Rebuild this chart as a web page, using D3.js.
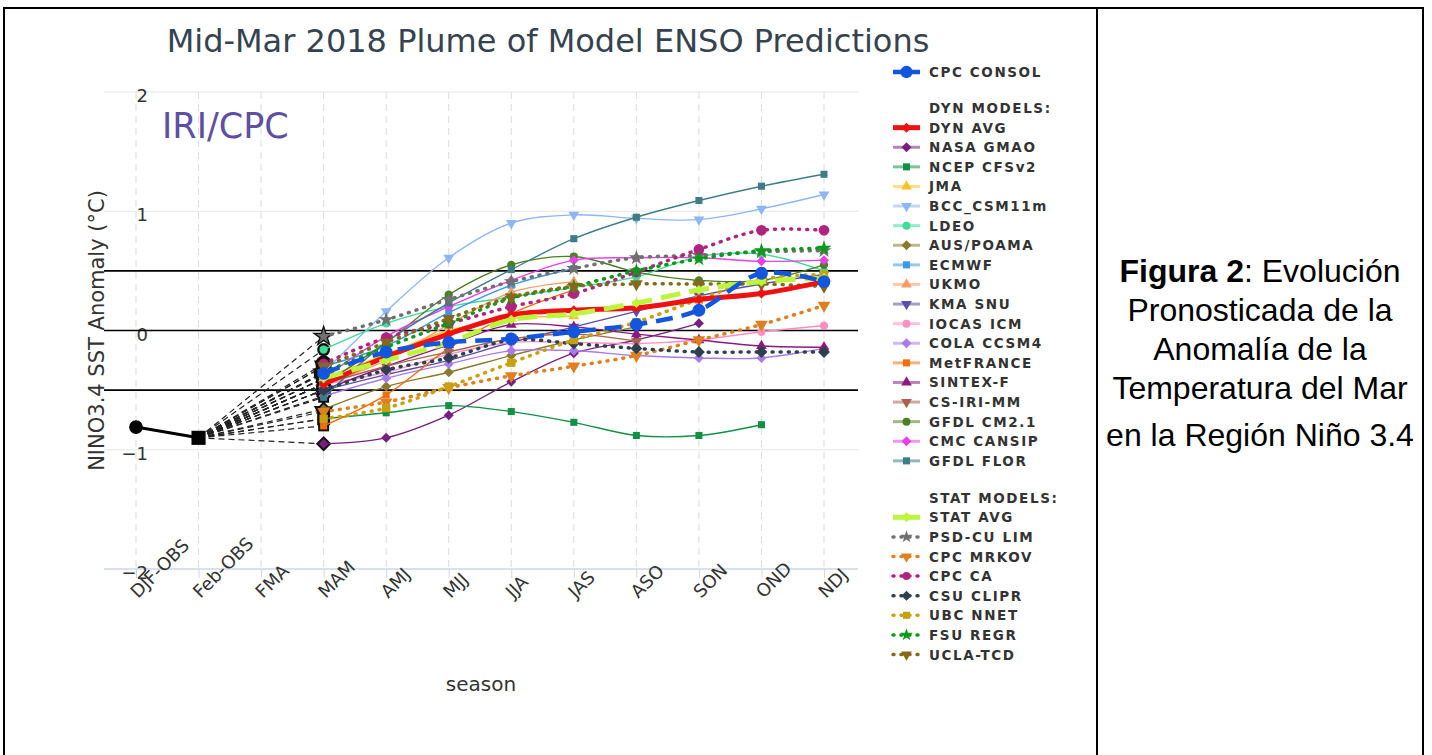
<!DOCTYPE html>
<html>
<head>
<meta charset="utf-8">
<script src="https://cdn.jsdelivr.net/npm/d3@7"></script>
<style>
  body { margin: 0; background: #fff; }
  svg { display: block; }
  .lbl { font-family: "DejaVu Sans", Verdana, sans-serif; fill: #333; }
</style>
</head>
<body>
<svg id="chart" width="1432" height="755"></svg>
<script>
// ---- data ----
const seasons = ['DJF-OBS', 'Feb-OBS', 'FMA', 'MAM', 'AMJ', 'MJJ', 'JJA', 'JAS', 'ASO', 'SON', 'OND', 'NDJ'];
const fcstSeasons = seasons.slice(3); // MAM .. NDJ
const yTicks = [-2, -1, 0, 1, 2];
const refLines = [-0.5, 0, 0.5];
const obsSeasons = ['DJF-OBS', 'Feb-OBS'];
const obsValues = [-0.81, -0.90];

// forecasts MAM..NDJ (null = no forecast)
const cpcConsol  = [-0.36, -0.18, -0.10, -0.07, -0.01, 0.05, 0.17, 0.48, 0.41];
const dynAvg     = [-0.45, -0.22, -0.03, 0.13, 0.17, 0.19, 0.26, 0.31, 0.41];
const nasaGmao   = [-0.95, -0.90, -0.71, -0.43, -0.19, -0.08, 0.06, null, null];
const ncepCfs    = [-0.74, -0.69, -0.63, -0.68, -0.77, -0.88, -0.88, -0.79, null];
const jma        = [-0.40, -0.20, 0.00, 0.10, 0.12, null, null, null, null];
const bcc        = [-0.35, 0.16, 0.61, 0.90, 0.97, 0.94, 0.93, 1.02, 1.14];
const ldeo       = [-0.16, 0.06, 0.20, 0.28, 0.36, 0.45, 0.62, 0.64, 0.50];
const ausPoama   = [-0.66, -0.47, -0.35, -0.21, -0.08, 0.03, null, null, null];
const ecmwf      = [-0.30, -0.13, 0.15, 0.38, 0.52, null, null, null, null];
const ukmo       = [-0.45, -0.25, 0.05, 0.32, 0.41, null, null, null, null];
const kmaSnu     = [-0.50, -0.37, -0.25, -0.10, 0.03, 0.16, 0.29, 0.39, 0.47];
const iocasIcm   = [-0.45, -0.35, -0.20, -0.10, -0.10, -0.11, -0.08, -0.01, 0.04];
const colaCcsm4  = [-0.55, -0.40, -0.28, -0.17, -0.17, -0.21, -0.23, -0.23, -0.15];
const metFrance  = [-0.80, -0.54, -0.15, 0.14, 0.34, null, null, null, null];
const sintexF    = [-0.50, -0.30, -0.12, 0.05, 0.03, -0.03, -0.08, -0.13, -0.14];
const csIriMm    = [-0.45, -0.30, -0.18, -0.07, -0.03, -0.09, null, null, null];
const gfdlCm21   = [-0.45, -0.10, 0.30, 0.55, 0.62, 0.49, 0.42, 0.42, 0.55];
const cmcCansip  = [-0.40, -0.05, 0.20, 0.42, 0.59, 0.61, 0.61, 0.58, 0.59];
const gfdlFlor   = [-0.56, -0.10, 0.23, 0.51, 0.77, 0.95, 1.09, 1.21, 1.31];
const statAvg    = [-0.40, -0.25, -0.10, 0.09, 0.14, 0.23, 0.34, 0.41, 0.44];
const psdCuLim   = [-0.05, 0.09, 0.26, 0.41, 0.52, 0.61, 0.63, 0.66, 0.67];
const cpcMrkov   = [-0.68, -0.60, -0.48, -0.38, -0.30, -0.21, -0.08, 0.05, 0.21];
const cpcCa      = [-0.28, -0.06, 0.06, 0.20, 0.31, 0.49, 0.68, 0.84, 0.84];
const csuClipr   = [-0.50, -0.33, -0.23, -0.08, -0.11, -0.15, -0.18, -0.18, -0.18];
const ubcNnet    = [-0.74, -0.65, -0.47, -0.27, -0.08, 0.07, 0.26, 0.43, 0.47];
const fsuRegr    = [-0.35, -0.14, 0.06, 0.27, 0.37, 0.50, 0.60, 0.67, 0.69];
const uclaTcd    = [-0.30, -0.10, 0.10, 0.28, 0.37, 0.39, 0.39, 0.39, 0.37];

const captionLines = ['Pronosticada de la', 'Anomalía de la', 'Temperatura del Mar', 'en la Región Niño 3.4'];

// styles per series
const consol = { name: 'CPC CONSOL', values: cpcConsol, color: '#1256e0', marker: 'circle', kind: 'consol' };
const dynModels = [
  { name: 'DYN AVG',     values: dynAvg,    color: '#ee1111', marker: 'diamond',  kind: 'avg' },
  { name: 'NASA GMAO',   values: nasaGmao,  color: '#75207f', marker: 'diamond',  kind: 'dyn' },
  { name: 'NCEP CFSv2',  values: ncepCfs,   color: '#119146', marker: 'square',   kind: 'dyn' },
  { name: 'JMA',         values: jma,       color: '#ffc125', marker: 'triangle', kind: 'dyn' },
  { name: 'BCC_CSM11m',  values: bcc,       color: '#8db6f4', marker: 'triangle-down', kind: 'dyn' },
  { name: 'LDEO',        values: ldeo,      color: '#3ddc97', marker: 'circle',   kind: 'dyn' },
  { name: 'AUS/POAMA',   values: ausPoama,  color: '#8a7a2e', marker: 'diamond',  kind: 'dyn' },
  { name: 'ECMWF',       values: ecmwf,     color: '#3a9ae8', marker: 'square',   kind: 'dyn' },
  { name: 'UKMO',        values: ukmo,      color: '#ff9966', marker: 'triangle', kind: 'dyn' },
  { name: 'KMA SNU',     values: kmaSnu,    color: '#5a4ea8', marker: 'triangle-down', kind: 'dyn' },
  { name: 'IOCAS ICM',   values: iocasIcm,  color: '#ff8fc0', marker: 'circle',   kind: 'dyn' },
  { name: 'COLA CCSM4',  values: colaCcsm4, color: '#a97ae8', marker: 'diamond',  kind: 'dyn' },
  { name: 'MetFRANCE',   values: metFrance, color: '#f06d10', marker: 'square',   kind: 'dyn' },
  { name: 'SINTEX-F',    values: sintexF,   color: '#8b1a80', marker: 'triangle', kind: 'dyn' },
  { name: 'CS-IRI-MM',   values: csIriMm,   color: '#a8624f', marker: 'triangle-down', kind: 'dyn' },
  { name: 'GFDL CM2.1',  values: gfdlCm21,  color: '#4a7f24', marker: 'circle',   kind: 'dyn' },
  { name: 'CMC CANSIP',  values: cmcCansip, color: '#e840e8', marker: 'diamond',  kind: 'dyn' },
  { name: 'GFDL FLOR',   values: gfdlFlor,  color: '#3d7d86', marker: 'square',   kind: 'dyn' }
];
const statModels = [
  { name: 'STAT AVG',    values: statAvg,   color: '#bdf53c', marker: 'diamond',  kind: 'savg' },
  { name: 'PSD-CU LIM',  values: psdCuLim,  color: '#707070', marker: 'star',     kind: 'stat' },
  { name: 'CPC MRKOV',   values: cpcMrkov,  color: '#e07f20', marker: 'triangle-down', kind: 'stat' },
  { name: 'CPC CA',      values: cpcCa,     color: '#b0237f', marker: 'circle',   kind: 'stat' },
  { name: 'CSU CLIPR',   values: csuClipr,  color: '#2e4050', marker: 'diamond',  kind: 'stat' },
  { name: 'UBC NNET',    values: ubcNnet,   color: '#c9a00f', marker: 'square',   kind: 'stat' },
  { name: 'FSU REGR',    values: fsuRegr,   color: '#0a9a1a', marker: 'star',     kind: 'stat' },
  { name: 'UCLA-TCD',    values: uclaTcd,   color: '#85691a', marker: 'triangle-down', kind: 'stat' }
];

const svg = d3.select('#chart');
const pLeft = 104, pRight = 858, pTop = 92, pBottom = 569;
const x = d3.scalePoint().domain(seasons).range([136, 824]);
const y = d3.scaleLinear().domain([-2, 2]).range([pBottom, pTop]);

// frame of the figure table
svg.append('g').attr('stroke', '#000').attr('stroke-width', 2).selectAll('line')
  .data([[4, 8, 1424, 8], [4, 7, 4, 755], [1097, 7, 1097, 755], [1423, 7, 1423, 755]])
  .join('line')
    .attr('x1', d => d[0]).attr('y1', d => d[1]).attr('x2', d => d[2]).attr('y2', d => d[3]);

svg.append('text').attr('class', 'lbl')
  .attr('x', 548).attr('y', 52).attr('text-anchor', 'middle')
  .attr('font-size', 32).style('fill', '#36434f')
  .text('Mid-Mar 2018 Plume of Model ENSO Predictions');

// grid
svg.append('g').selectAll('line').data(seasons).join('line')
  .attr('x1', d => x(d)).attr('x2', d => x(d))
  .attr('y1', pTop).attr('y2', pBottom)
  .attr('stroke', '#dcdcdc').attr('stroke-dasharray', '7,5');
svg.append('g').selectAll('line').data(yTicks.filter(t => t > -2)).join('line')
  .attr('x1', pLeft).attr('x2', pRight)
  .attr('y1', d => y(d)).attr('y2', d => y(d))
  .attr('stroke', '#e6e6e6');

// x axis
const xAxis = svg.append('g').attr('transform', `translate(0,${pBottom})`)
  .call(d3.axisBottom(x).tickSize(9).tickFormat(''));
xAxis.select('.domain').remove();
xAxis.selectAll('line').attr('stroke', '#ccd6eb');
svg.append('line').attr('x1', pLeft).attr('x2', pRight).attr('y1', pBottom).attr('y2', pBottom)
  .attr('stroke', '#ccd6eb').attr('stroke-width', 1.5);
svg.append('g').selectAll('text').data(seasons).join('text')
  .attr('class', 'lbl').attr('font-size', 18)
  .attr('transform', d => `translate(${x(d) + 2},${pBottom + 30}) rotate(-45)`)
  .text(d => d);

// y labels
svg.append('g').selectAll('text').data(yTicks).join('text')
  .attr('class', 'lbl').attr('font-size', 18).attr('text-anchor', 'end')
  .attr('x', 148).attr('y', d => y(d) + 10)
  .text(d => d < 0 ? '\u2212' + Math.abs(d) : d);

svg.append('text').attr('class', 'lbl').attr('font-size', 21).attr('text-anchor', 'middle')
  .attr('transform', `translate(104,${(pTop + pBottom) / 2}) rotate(-90)`)
  .text('NINO3.4 SST Anomaly (°C)');
svg.append('text').attr('class', 'lbl').attr('font-size', 20).attr('text-anchor', 'middle')
  .attr('x', (pLeft + pRight) / 2).attr('y', 691).text('season');

svg.append('text').attr('class', 'lbl').attr('font-size', 35).style('fill', '#5e4fa2')
  .attr('x', 162).attr('y', 138).text('IRI/CPC');

// reference lines
svg.append('g').selectAll('line').data(refLines).join('line')
  .attr('x1', pLeft).attr('x2', pRight)
  .attr('y1', d => y(d)).attr('y2', d => y(d))
  .attr('stroke', '#000').attr('stroke-width', 1.6);

// markers
function symbolPath(m, size) {
  const t = { circle: d3.symbolCircle, square: d3.symbolSquare, diamond: d3.symbolSquare,
              triangle: d3.symbolTriangle, 'triangle-down': d3.symbolTriangle, star: d3.symbolStar }[m];
  return d3.symbol().type(t).size(size)();
}
function symbolRot(m) { return m === 'diamond' ? 45 : m === 'triangle-down' ? 180 : 0; }
function markerSize(s) {
  if (s.kind === 'consol') return 130;
  if (s.name === 'CPC CA') return 90;
  if (s.kind === 'stat') return 70;
  return s.marker === 'circle' ? 55 : 50;
}
function lineStyle(sel, s) {
  const st = {
    consol: { w: 4.5, dash: '17,9' },
    avg:    { w: 5,   dash: null },
    savg:   { w: 5,   dash: '20,9' },
    dyn:    { w: 1.4, dash: null },
    stat:   { w: 3.5, dash: '1,7' }
  }[s.kind];
  sel.attr('stroke', s.color).attr('stroke-width', st.w)
    .attr('stroke-dasharray', st.dash).attr('stroke-linecap', s.kind === 'stat' ? 'round' : 'butt');
}

const allSeries = [...dynModels.slice(1), ...statModels.slice(1), dynModels[0], statModels[0], consol];
const pts = s => s.values.map((v, i) => ({ s: fcstSeasons[i], v })).filter(d => d.v !== null);

// dashed connectors from the last observation to each first forecast
svg.append('g').selectAll('line').data(allSeries).join('line')
  .attr('x1', x('Feb-OBS')).attr('y1', y(obsValues[1]))
  .attr('x2', x('MAM')).attr('y2', s => y(s.values[0]))
  .attr('stroke', '#222').attr('stroke-width', 1.2).attr('stroke-dasharray', '6,4');

// observations
svg.append('path').datum(obsValues)
  .attr('fill', 'none').attr('stroke', '#000').attr('stroke-width', 3)
  .attr('d', d3.line().x((d, i) => x(obsSeasons[i])).y(d => y(d)));
svg.append('path').attr('d', symbolPath('circle', 150))
  .attr('transform', `translate(${x(obsSeasons[0])},${y(obsValues[0])})`);
svg.append('path').attr('d', symbolPath('square', 200))
  .attr('transform', `translate(${x(obsSeasons[1])},${y(obsValues[1])})`);

// black first-forecast markers
svg.append('g').selectAll('path').data(allSeries).join('path')
  .attr('d', s => symbolPath(s.marker, markerSize(s) * 2.4))
  .attr('transform', s => `translate(${x('MAM')},${y(s.values[0])}) rotate(${symbolRot(s.marker)})`)
  .attr('fill', '#111');

const line = d3.line().x(d => x(d.s)).y(d => y(d.v)).curve(d3.curveCatmullRom.alpha(0.5));
allSeries.forEach(s => {
  const g = svg.append('g');
  g.append('path').datum(pts(s)).attr('fill', 'none').attr('d', line).call(lineStyle, s);
  g.selectAll('path.m').data(pts(s)).join('path').attr('class', 'm')
    .attr('d', symbolPath(s.marker, markerSize(s)))
    .attr('transform', d => `translate(${x(d.s)},${y(d.v)}) rotate(${symbolRot(s.marker)})`)
    .attr('fill', s.color);
});

// legend
const legend = svg.append('g');
const rowH = 19.6;
const rows = [];
let ly = 72;
rows.push({ y: ly, s: consol });
ly += rowH * 1.84; rows.push({ y: ly, head: 'DYN MODELS:' });
dynModels.forEach(s => { ly += rowH; rows.push({ y: ly, s }); });
ly += rowH * 1.88; rows.push({ y: ly, head: 'STAT MODELS:' });
statModels.forEach(s => { ly += rowH; rows.push({ y: ly, s }); });

const item = legend.selectAll('g').data(rows).join('g')
  .attr('transform', d => `translate(0,${d.y})`);
item.filter(d => d.s).append('line')
  .attr('x1', 893).attr('x2', 920)
  .each(function(d) {
    d3.select(this).call(lineStyle, d.s);
    if (d.s.kind === 'dyn') d3.select(this).attr('stroke-width', 3).attr('stroke-opacity', 0.55);
    if (d.s.kind === 'consol' || d.s.kind === 'savg') d3.select(this).attr('stroke-dasharray', null);
  });
item.filter(d => d.s).append('path')
  .attr('d', d => symbolPath(d.s.marker, d.s.kind === 'consol' ? 120 : 50))
  .attr('transform', d => `translate(906.5,0) rotate(${symbolRot(d.s.marker)})`)
  .attr('fill', d => d.s.color);
item.append('text').attr('class', 'lbl')
  .attr('x', 929).attr('y', 5)
  .attr('font-size', 13.5).attr('font-weight', 'bold').style('letter-spacing', '1.6px')
  .text(d => d.s ? d.s.name : d.head);

// caption in the right cell
const capFont = '"Liberation Sans", Arial, sans-serif';
const capY = [282, 321, 360, 399, 446];
const cap0 = svg.append('text').attr('x', 1260).attr('y', capY[0]).attr('text-anchor', 'middle')
  .attr('font-family', capFont).attr('font-size', 32).attr('fill', '#000');
cap0.append('tspan').attr('font-weight', 'bold').text('Figura 2');
cap0.append('tspan').text(': Evolución');
svg.append('g').selectAll('text').data(captionLines).join('text')
  .attr('x', 1260).attr('y', (d, i) => capY[i + 1]).attr('text-anchor', 'middle')
  .attr('font-family', capFont).attr('font-size', 32).attr('fill', '#000')
  .text(d => d);
</script>
</body>
</html>
